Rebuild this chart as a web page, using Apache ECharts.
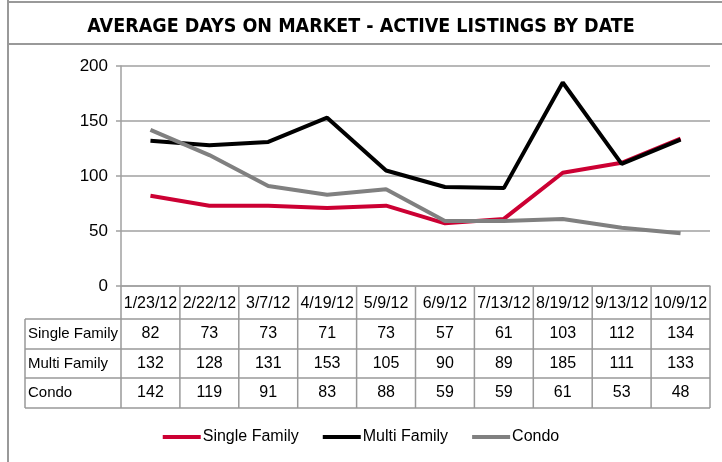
<!DOCTYPE html>
<html>
<head>
<meta charset="utf-8">
<script src="https://cdn.jsdelivr.net/npm/echarts@6/dist/echarts.min.js"></script>
<style>
html, body { margin: 0; padding: 0; background: #fff; }
#main { width: 722px; height: 462px; }
</style>
</head>
<body>
<div id="main"></div>
<script>
var dates = ['1/23/12', '2/22/12', '3/7/12', '4/19/12', '5/9/12', '6/9/12', '7/13/12', '8/19/12', '9/13/12', '10/9/12'];
var singleFamily = [82, 73, 73, 71, 73, 57, 61, 103, 112, 134];
var multiFamily = [132, 128, 131, 153, 105, 90, 89, 185, 111, 133];
var condo = [142, 119, 91, 83, 88, 59, 59, 61, 53, 48];
var seriesNames = ['Single Family', 'Multi Family', 'Condo'];
var seriesColors = ['#cc0033', '#000000', '#808080'];

var myChart = echarts.init(document.getElementById('main'));
var tableFont = '"Liberation Sans", Arial, sans-serif';
var lineGray = '#a0a0a0';

var option = {
  animation: false,
  title: {
    text: 'AVERAGE DAYS ON MARKET - ACTIVE LISTINGS BY DATE',
    left: 'center',
    top: 12,
    textStyle: {
      fontFamily: '"Liberation Sans Narrow", "DejaVu Sans Condensed", sans-serif',
      fontWeight: 'bold',
      fontSize: 19.5,
      color: '#000'
    }
  },
  legend: {
    bottom: 12,
    left: 'center',
    icon: 'rect',
    itemWidth: 38,
    itemHeight: 4,
    itemGap: 24,
    textStyle: { fontFamily: tableFont, fontSize: 16, color: '#000', padding: [0, 0, 0, -3] },
    data: seriesNames
  },
  grid: { left: 121, right: 12, top: 66, bottom: 176 },
  xAxis: {
    type: 'category',
    data: dates,
    boundaryGap: true,
    axisLine: { lineStyle: { color: lineGray, width: 1.5 } },
    axisTick: { show: false },
    axisLabel: { show: false }
  },
  yAxis: {
    type: 'value',
    min: 0,
    max: 200,
    interval: 50,
    axisLine: { show: true, lineStyle: { color: lineGray, width: 1.5 } },
    axisTick: { show: true, length: 5, lineStyle: { color: lineGray, width: 1.5 } },
    axisLabel: { fontFamily: tableFont, fontSize: 17, color: '#000', margin: 13 },
    splitLine: { lineStyle: { color: lineGray, width: 1.5 } }
  },
  series: [
    { name: seriesNames[0], type: 'line', data: singleFamily },
    { name: seriesNames[1], type: 'line', data: multiFamily },
    { name: seriesNames[2], type: 'line', data: condo }
  ].map(function (s, i) {
    s.showSymbol = false;
    s.symbol = 'none';
    s.color = seriesColors[i];
    s.lineStyle = { width: 4, color: seriesColors[i] };
    s.z = 2 + i;
    return s;
  })
};
myChart.setOption(option);

// frame and data table built from the axis geometry
var c0 = myChart.convertToPixel({ xAxisIndex: 0 }, dates[0]);
var c1 = myChart.convertToPixel({ xAxisIndex: 0 }, dates[1]);
var bw = c1 - c0;
var left = c0 - bw / 2;
var yBase = myChart.convertToPixel({ yAxisIndex: 0 }, 0);
var rowTops = [yBase, yBase + 33, yBase + 63, yBase + 92, yBase + 122];
var labelLeft = 25;
var rows = [singleFamily, multiFamily, condo];
var els = [];
var ls = { stroke: '#999', lineWidth: 1.5 };

// frame
els.push({ type: 'line', shape: { x1: 8, y1: 0, x2: 8, y2: 462 }, style: { stroke: '#999', lineWidth: 2 } });
els.push({ type: 'line', shape: { x1: 8, y1: 2, x2: 722, y2: 2 }, style: { stroke: '#999', lineWidth: 2 } });
els.push({ type: 'line', shape: { x1: 8, y1: 44, x2: 722, y2: 44 }, style: { stroke: '#999', lineWidth: 2 } });

// vertical lines
for (var i = 0; i <= dates.length; i++) {
  var x = left + i * bw;
  els.push({ type: 'line', shape: { x1: x, y1: yBase, x2: x, y2: rowTops[4] }, style: ls });
}
els.push({ type: 'line', shape: { x1: labelLeft, y1: rowTops[1], x2: labelLeft, y2: rowTops[4] }, style: ls });
// horizontal lines
for (var r = 1; r <= 4; r++) {
  els.push({ type: 'line', shape: { x1: labelLeft, y1: rowTops[r], x2: left + dates.length * bw, y2: rowTops[r] }, style: ls });
}
// header row
dates.forEach(function (d, i) {
  els.push({ type: 'text', x: left + (i + 0.5) * bw, y: (rowTops[0] + rowTops[1]) / 2 + 1,
    style: { text: d, fontFamily: tableFont, fontSize: 16, fill: '#000', align: 'center', verticalAlign: 'middle' } });
});
// value rows
rows.forEach(function (vals, r) {
  var yc = (rowTops[r + 1] + rowTops[r + 2]) / 2;
  els.push({ type: 'text', x: labelLeft + 3, y: yc,
    style: { text: seriesNames[r], fontFamily: tableFont, fontSize: 15, fill: '#000', align: 'left', verticalAlign: 'middle' } });
  vals.forEach(function (v, i) {
    els.push({ type: 'text', x: left + (i + 0.5) * bw, y: yc,
      style: { text: String(v), fontFamily: tableFont, fontSize: 16, fill: '#000', align: 'center', verticalAlign: 'middle' } });
  });
});
myChart.setOption({ graphic: { elements: els } });
</script>
</body>
</html>
